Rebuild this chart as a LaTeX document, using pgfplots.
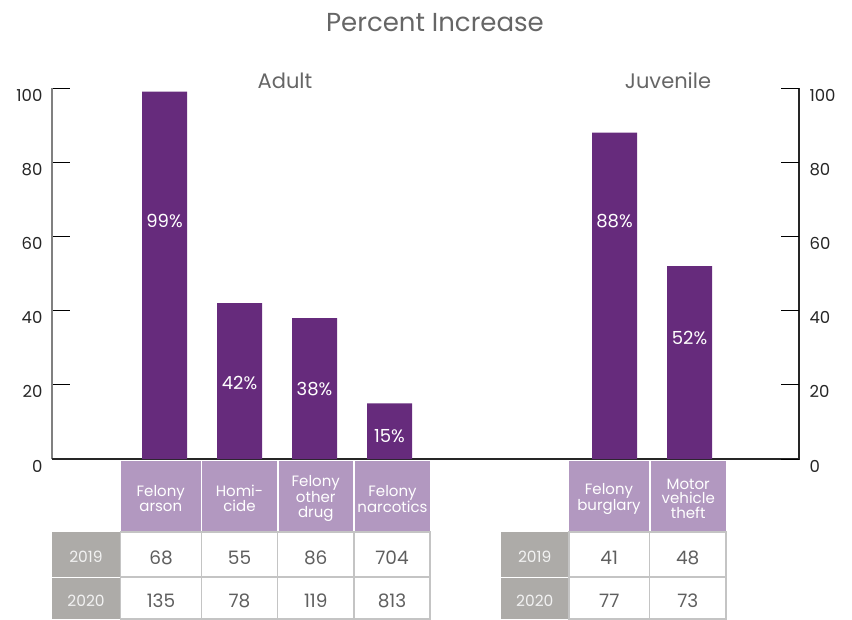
\documentclass[border=0pt]{standalone}
\usepackage{fontspec}
\setmainfont{Poppins}
\usepackage{pgfplots}
\pgfplotsset{compat=1.18}
\usepackage{pgfplotstable}
\usetikzlibrary{calc}

\definecolor{barpurple}{HTML}{662B7C}
\definecolor{headpurple}{HTML}{B298C0}
\definecolor{yeargray}{HTML}{ADABA8}
\definecolor{cellline}{HTML}{C4C4C4}
\definecolor{numgray}{HTML}{5F5F5F}
\definecolor{titlegray}{HTML}{666666}

% x = bar position, y = percent increase, ly = height of the label inside the bar
\pgfplotstableread{
x y ly
0 99 64.2
1 42 20.5
2 38 18.9
3 15 6.2
6 88 64.2
7 52 32.6
}\pctdata

\newcommand{\fs}[2]{\fontsize{#1}{#2}\selectfont}
% \cell{x1}{y1}{x2}{y2}{path style}{text style}{text}
\newcommand{\cell}[7]{%
  \path[#5] (#1pt,-#2pt) rectangle (#3pt,-#4pt);
  \node[align=center, inner sep=0pt, yshift=-3pt, #6] at ($(#1pt,-#2pt)!0.5!(#3pt,-#4pt)$) {#7};}

\begin{document}
\begin{tikzpicture}
\useasboundingbox (0,0) rectangle (852pt,-619pt);

\begin{axis}[
  scale only axis, width=747pt, height=371pt,
  at={(52pt,-459pt)}, anchor=south west,
  xmin=-1.5, xmax=8.46, ymin=0, ymax=100,
  xtick=\empty, ytick={0,20,...,100},
  ytick pos=left, tick align=inside, major tick length=18pt,
  axis line style={draw=none},
  tick style={black, line width=1pt},
  yticklabel style={font=\fs{16.5}{19}, text=black!85, yshift=-7pt, xshift=-6pt},
  /pgf/number format/assume math mode=true,
  clip=false,
]
\draw[gray, line width=1.2pt] (rel axis cs:0,0) -- (rel axis cs:0,1);
\draw[black!85, line width=1.2pt] (rel axis cs:0,0) -- (rel axis cs:1,0) -- (rel axis cs:1,1);
\addplot[ybar, bar width=0.6, fill=barpurple, draw=none] table[x=x, y=y] {\pctdata};
\addplot[draw=none, mark=none, point meta=explicit,
  nodes near coords={\pgfmathprintnumber{\pgfplotspointmeta}\%},
  every node near coord/.append style={anchor=center, text=white, font=\fs{18}{21}}]
  table[x=x, y=ly, meta=y] {\pctdata};
\end{axis}

\begin{axis}[
  scale only axis, width=747pt, height=371pt,
  at={(52pt,-459pt)}, anchor=south west,
  xmin=-1.5, xmax=8.46, ymin=0, ymax=100,
  xtick=\empty, ytick={0,20,...,100},
  ytick pos=right, yticklabel pos=right, tick align=inside, major tick length=18pt,
  axis line style={draw=none},
  tick style={black, line width=1pt},
  yticklabel style={font=\fs{16.5}{19}, text=black!85, yshift=-7pt, xshift=7pt},
  /pgf/number format/assume math mode=true,
]
\end{axis}

\node[text=titlegray, font=\fs{26}{30}] at (435pt,-23pt) {Percent Increase};
\node[text=titlegray, font=\fs{21}{24}] at (285pt,-81pt) {Adult};
\node[text=titlegray, font=\fs{21}{24}] at (668pt,-81pt) {Juvenile};

% Adult table
\cell{121}{460.5}{200.5}{531}{fill=headpurple}{text=white, font=\fs{15}{14.8}}{Felony\\arson}
\cell{202}{460.5}{277}{531}{fill=headpurple}{text=white, font=\fs{15}{14.8}}{Homi-\\cide}
\cell{278.5}{460.5}{353}{531}{fill=headpurple}{text=white, font=\fs{15}{14.8}}{Felony\\other\\drug}
\cell{355}{460.5}{430}{531}{fill=headpurple}{text=white, font=\fs{15}{14.8}}{Felony\\narcotics}

\cell{52}{532}{120}{576.5}{fill=yeargray}{text=white!95!black, font=\fs{15.5}{17}}{2019}
\cell{52}{577.5}{120}{619}{fill=yeargray}{text=white!95!black, font=\fs{15.5}{17}}{2020}
\cell{120.5}{532}{201.5}{577}{draw=cellline, line width=1.2pt}{text=numgray, font=\fs{18.5}{20}}{68}
\cell{201.5}{532}{277.5}{577}{draw=cellline, line width=1.2pt}{text=numgray, font=\fs{18.5}{20}}{55}
\cell{277.5}{532}{354}{577}{draw=cellline, line width=1.2pt}{text=numgray, font=\fs{18.5}{20}}{86}
\cell{354}{532}{430}{577}{draw=cellline, line width=1.2pt}{text=numgray, font=\fs{18.5}{20}}{704}
\cell{120.5}{577}{201.5}{619}{draw=cellline, line width=1.2pt}{text=numgray, font=\fs{18.5}{20}}{135}
\cell{201.5}{577}{277.5}{619}{draw=cellline, line width=1.2pt}{text=numgray, font=\fs{18.5}{20}}{78}
\cell{277.5}{577}{354}{619}{draw=cellline, line width=1.2pt}{text=numgray, font=\fs{18.5}{20}}{119}
\cell{354}{577}{430}{619}{draw=cellline, line width=1.2pt}{text=numgray, font=\fs{18.5}{20}}{813}

% Juvenile table
\cell{569}{460.5}{649}{531}{fill=headpurple}{text=white, font=\fs{15}{14.8}}{Felony\\burglary}
\cell{650.5}{460.5}{726}{531}{fill=headpurple}{text=white, font=\fs{15}{14.8}}{Motor\\vehicle\\theft}

\cell{500.5}{532}{569}{576.5}{fill=yeargray}{text=white!95!black, font=\fs{15.5}{17}}{2019}
\cell{500.5}{577.5}{569}{619}{fill=yeargray}{text=white!95!black, font=\fs{15.5}{17}}{2020}
\cell{569}{532}{649.5}{577}{draw=cellline, line width=1.2pt}{text=numgray, font=\fs{18.5}{20}}{41}
\cell{649.5}{532}{726}{577}{draw=cellline, line width=1.2pt}{text=numgray, font=\fs{18.5}{20}}{48}
\cell{569}{577}{649.5}{619}{draw=cellline, line width=1.2pt}{text=numgray, font=\fs{18.5}{20}}{77}
\cell{649.5}{577}{726}{619}{draw=cellline, line width=1.2pt}{text=numgray, font=\fs{18.5}{20}}{73}
\end{tikzpicture}
\end{document}
